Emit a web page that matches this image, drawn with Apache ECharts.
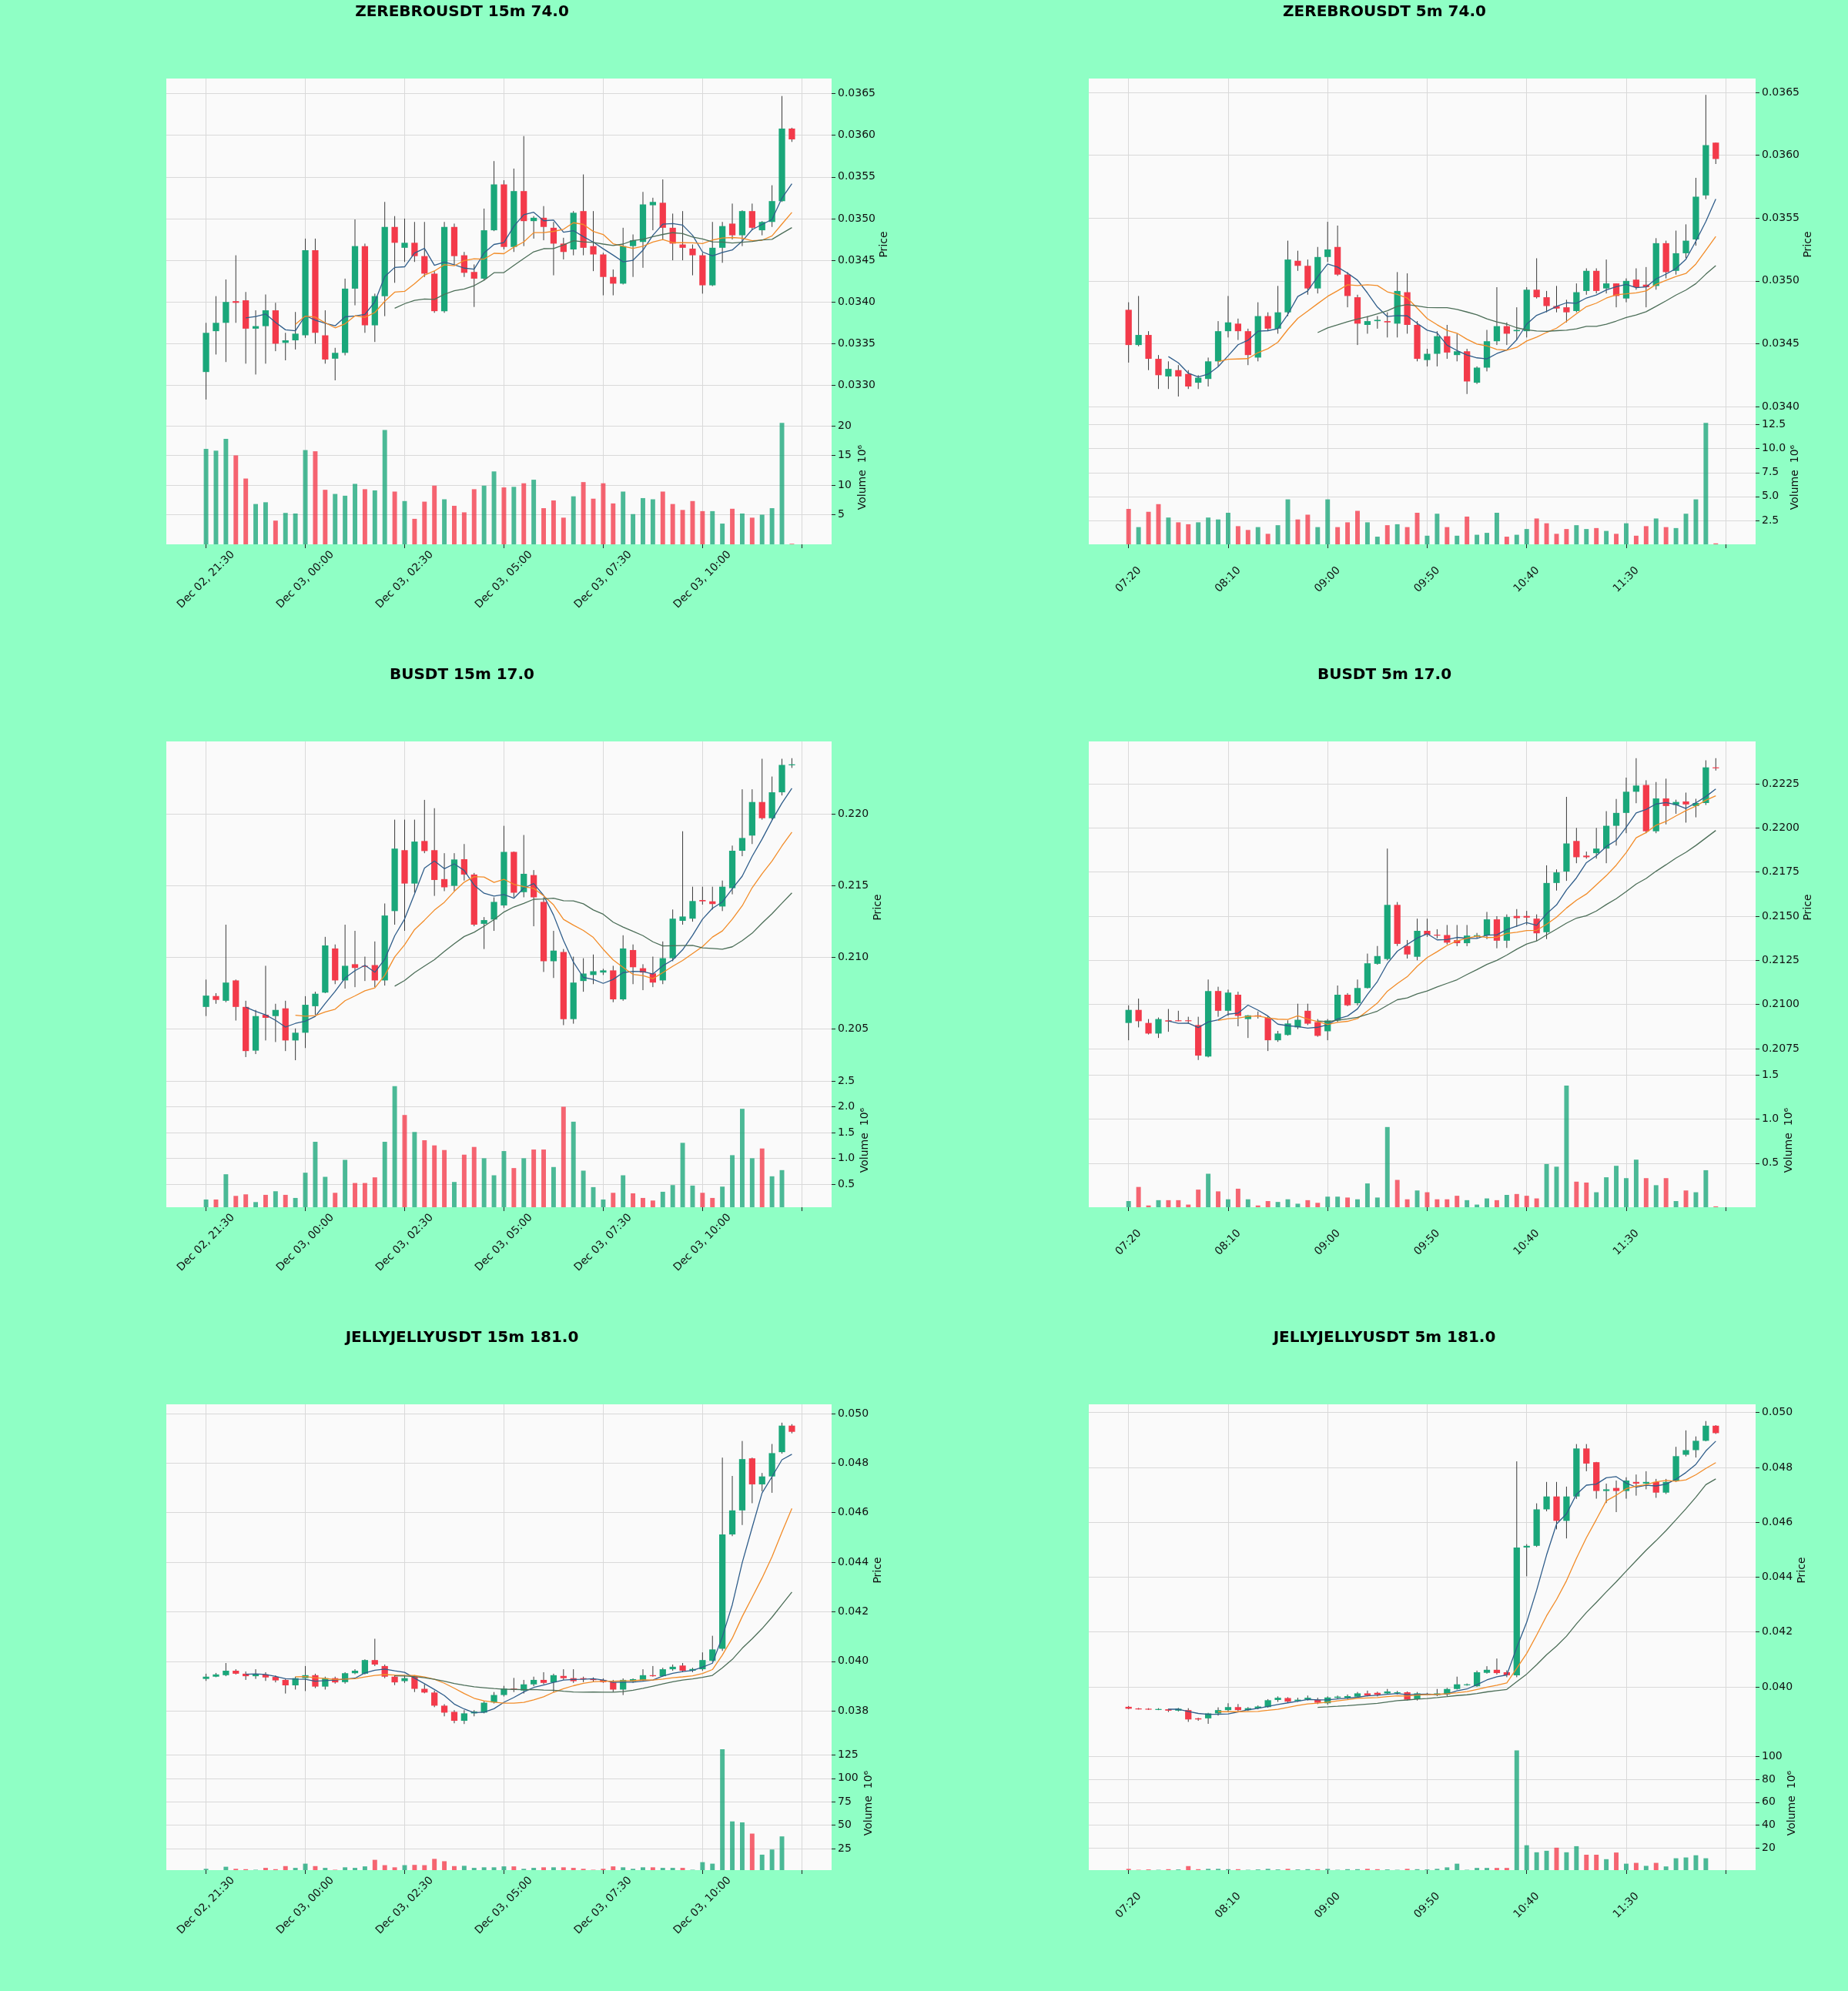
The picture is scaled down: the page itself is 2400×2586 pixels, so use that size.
<!DOCTYPE html>
<html>
<head>
<meta charset="utf-8">
<script src="https://cdn.jsdelivr.net/npm/echarts@6.0.0/dist/echarts.min.js"></script>
<style>
  html, body { margin: 0; padding: 0; background: #8fffc5; }
  #chart { width: 2400px; height: 2586px; }
</style>
</head>
<body>
<div id="chart"></div>
<script>
// time axis tick labels (one every 10 candles)
const labels15m = ['Dec 02, 21:30', 'Dec 03, 00:00', 'Dec 03, 02:30', 'Dec 03, 05:00', 'Dec 03, 07:30', 'Dec 03, 10:00'];
const labels5m = ['07:20', '08:10', '09:00', '09:50', '10:40', '11:30'];

// candles: [open, high, low, close]
const zerebro15m = [
  [0.03316,0.03375,0.03283,0.03363],[0.03365,0.03407,0.03337,0.03375],[0.03375,0.03427,0.03328,0.03400],[0.03401,0.03456,0.03375,0.03399],
  [0.03402,0.03412,0.03326,0.03368],[0.03368,0.03390,0.03313,0.03371],[0.03371,0.03409,0.03326,0.03390],[0.03390,0.03399,0.03341,0.03350],
  [0.03351,0.03363,0.03330,0.03354],[0.03354,0.03388,0.03343,0.03362],[0.03360,0.03476,0.03357,0.03462],[0.03462,0.03476,0.03350,0.03363],
  [0.03360,0.03390,0.03326,0.03331],[0.03332,0.03345,0.03306,0.03339],[0.03339,0.03428,0.03336,0.03416],[0.03416,0.03499,0.03396,0.03467],
  [0.03467,0.03470,0.03363,0.03372],[0.03372,0.03410,0.03352,0.03407],[0.03407,0.03520,0.03383,0.03490],[0.03490,0.03503,0.03423,0.03471],
  [0.03465,0.03500,0.03448,0.03471],[0.03471,0.03496,0.03448,0.03455],[0.03455,0.03496,0.03430,0.03434],[0.03434,0.03437,0.03387,0.03389],
  [0.03389,0.03496,0.03387,0.03490],[0.03490,0.03494,0.03445,0.03455],[0.03456,0.03460,0.03430,0.03435],[0.03436,0.03445,0.03394,0.03428],
  [0.03428,0.03512,0.03426,0.03486],[0.03486,0.03569,0.03485,0.03541],[0.03541,0.03546,0.03463,0.03466],[0.03466,0.03560,0.03460,0.03533],
  [0.03533,0.03599,0.03467,0.03497],[0.03497,0.03503,0.03476,0.03501],[0.03501,0.03515,0.03474,0.03490],[0.03489,0.03496,0.03432,0.03470],
  [0.03470,0.03477,0.03451,0.03460],[0.03463,0.03509,0.03456,0.03507],[0.03509,0.03553,0.03456,0.03465],[0.03467,0.03509,0.03437,0.03457],
  [0.03457,0.03459,0.03408,0.03430],[0.03430,0.03439,0.03408,0.03422],[0.03422,0.03489,0.03421,0.03467],[0.03467,0.03481,0.03430,0.03474],
  [0.03472,0.03532,0.03441,0.03517],[0.03516,0.03525,0.03486,0.03520],[0.03519,0.03547,0.03474,0.03489],[0.03489,0.03506,0.03450,0.03470],
  [0.03469,0.03509,0.03450,0.03465],[0.03464,0.03469,0.03432,0.03456],[0.03456,0.03459,0.03410,0.03420],[0.03420,0.03496,0.03419,0.03465],
  [0.03465,0.03496,0.03447,0.03491],[0.03494,0.03518,0.03475,0.03480],[0.03480,0.03510,0.03467,0.03509],[0.03509,0.03518,0.03486,0.03489],
  [0.03486,0.03497,0.03480,0.03496],[0.03496,0.03540,0.03490,0.03521],[0.03521,0.03647,0.03520,0.03608],[0.03608,0.03609,0.03592,0.03595]
];
const zerebro15mVol = [16.1,15.8,17.8,15.0,11.1,6.8,7.1,4.0,5.3,5.2,15.9,15.7,9.2,8.5,8.2,10.2,9.3,9.1,19.3,8.9,
  7.3,4.3,7.2,9.9,7.6,6.5,5.4,9.3,9.9,12.3,9.6,9.7,10.3,10.9,6.1,7.4,4.5,8.1,10.5,7.7,
  10.3,6.9,8.9,5.1,7.8,7.6,8.9,6.8,5.8,7.3,5.6,5.6,3.5,6.0,5.2,4.5,5.0,6.1,20.5,0.1];

const zerebro5m = [
  [0.03477,0.03483,0.03435,0.03449],[0.03449,0.03488,0.03448,0.03457],[0.03457,0.03460,0.03429,0.03438],[0.03438,0.03441,0.03414,0.03425],
  [0.03424,0.03436,0.03414,0.03430],[0.03429,0.03433,0.03408,0.03424],[0.03426,0.03429,0.03414,0.03416],[0.03419,0.03425,0.03414,0.03423],
  [0.03422,0.03439,0.03416,0.03436],[0.03436,0.03468,0.03432,0.03460],[0.03460,0.03488,0.03455,0.03467],[0.03466,0.03470,0.03453,0.03460],
  [0.03460,0.03462,0.03433,0.03441],[0.03439,0.03483,0.03436,0.03472],[0.03472,0.03475,0.03460,0.03462],[0.03462,0.03496,0.03458,0.03475],
  [0.03475,0.03532,0.03472,0.03517],[0.03516,0.03524,0.03508,0.03512],[0.03512,0.03517,0.03489,0.03494],[0.03494,0.03527,0.03490,0.03519],
  [0.03519,0.03547,0.03515,0.03525],[0.03527,0.03544,0.03504,0.03505],[0.03505,0.03507,0.03479,0.03488],[0.03487,0.03489,0.03449,0.03466],
  [0.03465,0.03472,0.03458,0.03468],[0.03468,0.03472,0.03462,0.03469],[0.03468,0.03475,0.03455,0.03467],[0.03466,0.03507,0.03455,0.03492],
  [0.03491,0.03506,0.03458,0.03465],[0.03465,0.03468,0.03436,0.03438],[0.03437,0.03446,0.03432,0.03442],[0.03442,0.03460,0.03432,0.03456],
  [0.03456,0.03465,0.03438,0.03443],[0.03441,0.03458,0.03436,0.03444],[0.03444,0.03446,0.03410,0.03420],[0.03419,0.03432,0.03418,0.03431],
  [0.03431,0.03461,0.03428,0.03452],[0.03452,0.03495,0.03449,0.03464],[0.03464,0.03467,0.03449,0.03458],[0.03460,0.03479,0.03453,0.03461],
  [0.03460,0.03495,0.03455,0.03493],[0.03493,0.03518,0.03486,0.03487],[0.03487,0.03492,0.03475,0.03480],[0.03480,0.03496,0.03475,0.03478],
  [0.03479,0.03485,0.03467,0.03475],[0.03476,0.03498,0.03475,0.03491],[0.03492,0.03510,0.03489,0.03508],[0.03508,0.03510,0.03490,0.03492],
  [0.03494,0.03517,0.03490,0.03498],[0.03498,0.03498,0.03479,0.03488],[0.03486,0.03502,0.03483,0.03500],[0.03501,0.03510,0.03493,0.03495],
  [0.03497,0.03511,0.03479,0.03495],[0.03496,0.03534,0.03493,0.03530],[0.03530,0.03532,0.03502,0.03507],[0.03508,0.03540,0.03505,0.03522],
  [0.03522,0.03545,0.03518,0.03532],[0.03533,0.03582,0.03528,0.03567],[0.03568,0.03648,0.03565,0.03608],[0.03610,0.03610,0.03593,0.03597]
];
const zerebro5mVol = [3.7,1.8,3.4,4.2,2.8,2.3,2.1,2.3,2.8,2.6,3.3,1.9,1.5,1.8,1.1,2.0,4.7,2.6,3.1,1.8,
  4.7,1.8,2.3,3.5,2.3,0.8,2.0,2.1,1.8,3.3,0.9,3.2,1.8,0.9,2.9,1.0,1.2,3.3,0.8,1.0,
  1.6,2.7,2.2,1.1,1.6,2.0,1.6,1.7,1.4,1.1,2.2,0.9,1.9,2.7,1.8,1.7,3.2,4.7,12.7,0.1];

const busdt15m = [
  [0.20655,0.20846,0.20591,0.20734],[0.20731,0.20751,0.20677,0.20704],[0.20698,0.21229,0.20688,0.20825],[0.20840,0.20846,0.20560,0.20655],
  [0.20655,0.20698,0.20305,0.20347],[0.20350,0.20634,0.20326,0.20591],[0.20600,0.20942,0.20421,0.20579],[0.20591,0.20677,0.20410,0.20634],
  [0.20645,0.20698,0.20347,0.20421],[0.20421,0.20505,0.20283,0.20475],[0.20475,0.20730,0.20368,0.20670],[0.20660,0.20761,0.20600,0.20747],
  [0.20755,0.21144,0.20751,0.21084],[0.21063,0.21091,0.20814,0.20840],[0.20840,0.21229,0.20783,0.20942],[0.20953,0.21186,0.20793,0.20927],
  [0.20942,0.21006,0.20836,0.20935],[0.20947,0.21112,0.20793,0.20840],[0.20840,0.21377,0.20804,0.21293],[0.21324,0.21962,0.21229,0.21760],
  [0.21749,0.21962,0.21186,0.21516],[0.21516,0.21962,0.21452,0.21809],[0.21813,0.22100,0.21728,0.21743],[0.21749,0.22042,0.21430,0.21541],
  [0.21547,0.21728,0.21463,0.21490],[0.21500,0.21728,0.21463,0.21684],[0.21686,0.21792,0.21537,0.21579],[0.21579,0.21590,0.21218,0.21229],
  [0.21235,0.21282,0.21059,0.21261],[0.21265,0.21420,0.21186,0.21388],[0.21363,0.21919,0.21346,0.21737],[0.21737,0.21740,0.21420,0.21452],
  [0.21456,0.21855,0.21420,0.21584],[0.21575,0.21610,0.21218,0.21420],[0.21388,0.21420,0.20899,0.20974],[0.20974,0.21186,0.20857,0.21048],
  [0.21038,0.21059,0.20528,0.20570],[0.20570,0.21006,0.20538,0.20825],[0.20836,0.20995,0.20761,0.20888],[0.20878,0.21021,0.20814,0.20904],
  [0.20895,0.20921,0.20878,0.20910],[0.20910,0.20942,0.20688,0.20708],[0.20708,0.21155,0.20698,0.21063],[0.21052,0.21091,0.20814,0.20932],
  [0.20925,0.20953,0.20772,0.20895],[0.20889,0.21006,0.20793,0.20825],[0.20840,0.21112,0.20814,0.20995],[0.20995,0.21335,0.20974,0.21271],
  [0.21256,0.21881,0.21229,0.21286],[0.21271,0.21494,0.21250,0.21394],[0.21401,0.21494,0.21369,0.21392],[0.21392,0.21494,0.21335,0.21373],
  [0.21356,0.21537,0.21324,0.21494],[0.21484,0.21781,0.21441,0.21745],[0.21745,0.22174,0.21707,0.21834],[0.21851,0.22174,0.21792,0.22085],
  [0.22085,0.22387,0.21962,0.21972],[0.21972,0.22263,0.21962,0.22153],[0.22153,0.22387,0.22131,0.22344],[0.22344,0.22391,0.22323,0.22348]
];
const busdt15mVol = [0.20,0.20,0.69,0.27,0.30,0.15,0.29,0.36,0.29,0.23,0.72,1.32,0.64,0.33,0.97,0.52,0.52,0.63,1.32,2.40,
  1.84,1.51,1.35,1.25,1.16,0.54,1.07,1.22,1.00,0.67,1.14,0.81,1.00,1.17,1.17,0.83,2.00,1.71,0.76,0.44,
  0.20,0.33,0.67,0.32,0.23,0.18,0.35,0.48,1.30,0.47,0.33,0.23,0.45,1.06,1.96,1.00,1.19,0.65,0.77,0.01];

const busdt5m = [
  [0.20895,0.20995,0.20797,0.20969],[0.20969,0.21033,0.20870,0.20905],[0.20895,0.20917,0.20830,0.20835],[0.20835,0.20926,0.20810,0.20917],
  [0.20910,0.20974,0.20845,0.20903],[0.20910,0.20964,0.20905,0.20907],[0.20910,0.20930,0.20890,0.20907],[0.20883,0.20930,0.20685,0.20710],
  [0.20705,0.21141,0.20700,0.21076],[0.21076,0.21100,0.20930,0.20964],[0.20964,0.21084,0.20935,0.21067],[0.21055,0.21072,0.20876,0.20935],
  [0.20917,0.20940,0.20810,0.20938],[0.20938,0.20960,0.20920,0.20935],[0.20924,0.20933,0.20736,0.20797],[0.20797,0.20850,0.20788,0.20835],
  [0.20827,0.20910,0.20823,0.20892],[0.20870,0.21004,0.20860,0.20913],[0.20964,0.21004,0.20883,0.20891],[0.20900,0.20917,0.20817,0.20822],
  [0.20848,0.20917,0.20797,0.20909],[0.20909,0.21107,0.20900,0.21055],[0.21055,0.21064,0.20990,0.20995],[0.21007,0.21141,0.20995,0.21093],
  [0.21093,0.21288,0.21090,0.21233],[0.21230,0.21331,0.21225,0.21274],[0.21257,0.21883,0.21250,0.21564],[0.21564,0.21580,0.21331,0.21343],
  [0.21331,0.21365,0.21260,0.21283],[0.21270,0.21486,0.21250,0.21417],[0.21417,0.21486,0.21383,0.21395],[0.21395,0.21426,0.21374,0.21390],
  [0.21393,0.21450,0.21340,0.21350],[0.21364,0.21450,0.21330,0.21347],[0.21347,0.21450,0.21330,0.21390],[0.21389,0.21405,0.21376,0.21392],
  [0.21391,0.21524,0.21370,0.21482],[0.21482,0.21500,0.21318,0.21361],[0.21361,0.21510,0.21320,0.21495],[0.21501,0.21540,0.21440,0.21489],
  [0.21501,0.21530,0.21450,0.21492],[0.21486,0.21510,0.21360,0.21403],[0.21409,0.21788,0.21370,0.21688],[0.21688,0.21765,0.21645,0.21748],
  [0.21753,0.22176,0.21700,0.21912],[0.21926,0.22000,0.21800,0.21834],[0.21843,0.21866,0.21826,0.21834],[0.21857,0.22000,0.21826,0.21883],
  [0.21883,0.22095,0.21800,0.22012],[0.22012,0.22164,0.21900,0.22085],[0.22085,0.22285,0.21970,0.22205],[0.22205,0.22395,0.22140,0.22240],
  [0.22243,0.22270,0.21970,0.21981],[0.21981,0.22260,0.21970,0.22167],[0.22167,0.22279,0.22020,0.22124],[0.22130,0.22160,0.22080,0.22147],
  [0.22150,0.22200,0.22030,0.22133],[0.22124,0.22165,0.22060,0.22141],[0.22141,0.22383,0.22130,0.22343],[0.22343,0.22395,0.22325,0.22341]
];
const busdt5mVol = [0.07,0.23,0.02,0.08,0.08,0.08,0.03,0.20,0.38,0.18,0.09,0.21,0.09,0.02,0.07,0.06,0.09,0.04,0.08,0.05,
  0.12,0.12,0.11,0.09,0.27,0.11,0.91,0.31,0.09,0.19,0.17,0.09,0.09,0.13,0.08,0.03,0.10,0.08,0.14,0.15,
  0.13,0.10,0.49,0.46,1.38,0.29,0.28,0.17,0.34,0.47,0.33,0.54,0.33,0.25,0.33,0.07,0.19,0.17,0.42,0.01];

const jelly15m = [
  [0.03929,0.03950,0.03921,0.03938],[0.03938,0.03953,0.03936,0.03947],[0.03944,0.03993,0.03940,0.03962],[0.03962,0.03968,0.03947,0.03950],
  [0.03950,0.03959,0.03925,0.03940],[0.03940,0.03968,0.03929,0.03948],[0.03947,0.03956,0.03921,0.03935],[0.03937,0.03943,0.03915,0.03923],
  [0.03925,0.03931,0.03870,0.03903],[0.03903,0.03938,0.03886,0.03932],[0.03932,0.03981,0.03880,0.03944],[0.03944,0.03950,0.03892,0.03898],
  [0.03898,0.03938,0.03886,0.03932],[0.03932,0.03938,0.03910,0.03915],[0.03916,0.03956,0.03910,0.03952],[0.03952,0.03968,0.03948,0.03962],
  [0.03950,0.04008,0.03947,0.04005],[0.04005,0.04091,0.03981,0.03987],[0.03981,0.03987,0.03932,0.03938],[0.03938,0.03944,0.03904,0.03915],
  [0.03920,0.03944,0.03913,0.03932],[0.03938,0.03944,0.03876,0.03889],[0.03889,0.03907,0.03871,0.03874],[0.03874,0.03882,0.03815,0.03821],
  [0.03821,0.03827,0.03778,0.03793],[0.03796,0.03803,0.03750,0.03760],[0.03760,0.03803,0.03747,0.03790],[0.03790,0.03803,0.03778,0.03797],
  [0.03793,0.03840,0.03790,0.03833],[0.03834,0.03876,0.03830,0.03864],[0.03864,0.03901,0.03858,0.03890],[0.03890,0.03933,0.03876,0.03887],
  [0.03882,0.03925,0.03870,0.03907],[0.03907,0.03938,0.03900,0.03925],[0.03925,0.03956,0.03907,0.03913],[0.03915,0.03950,0.03876,0.03944],
  [0.03941,0.03968,0.03925,0.03932],[0.03932,0.03968,0.03913,0.03920],[0.03932,0.03938,0.03916,0.03928],[0.03928,0.03935,0.03916,0.03925],
  [0.03925,0.03931,0.03913,0.03916],[0.03916,0.03925,0.03876,0.03886],[0.03886,0.03931,0.03864,0.03925],[0.03920,0.03931,0.03913,0.03928],
  [0.03925,0.03968,0.03919,0.03944],[0.03944,0.03981,0.03938,0.03940],[0.03940,0.03974,0.03938,0.03968],[0.03968,0.03987,0.03962,0.03978],
  [0.03983,0.03993,0.03956,0.03962],[0.03962,0.03974,0.03956,0.03969],[0.03968,0.04036,0.03962,0.04005],[0.04002,0.04103,0.03999,0.04048],
  [0.04051,0.04822,0.04042,0.04512],[0.04512,0.04748,0.04505,0.04609],[0.04609,0.04889,0.04550,0.04816],[0.04819,0.04822,0.04638,0.04714],
  [0.04714,0.04760,0.04686,0.04746],[0.04746,0.04877,0.04680,0.04840],[0.04844,0.04963,0.04838,0.04951],[0.04951,0.04957,0.04920,0.04926]
];
const jelly15mVol = [3.4,1.8,5.6,3.4,3.0,2.4,4.4,3.0,6.3,4.4,8.9,6.3,4.4,2.4,5.0,4.4,6.0,13.0,7.3,5.0,
  7.3,7.6,7.3,14.0,11.5,6.3,6.6,4.4,5.0,5.0,6.0,6.0,3.4,4.4,5.0,5.0,5.0,4.4,3.4,2.4,
  3.4,6.0,5.0,3.4,5.0,5.0,4.4,4.4,4.4,2.4,10.5,8.9,131,54,53,41,18.5,24,38,0.5];

const jelly5m = [
  [0.03927,0.03930,0.03918,0.03920],[0.03921,0.03923,0.03917,0.03920],[0.03920,0.03922,0.03916,0.03919],[0.03918,0.03922,0.03915,0.03919],
  [0.03918,0.03920,0.03908,0.03913],[0.03913,0.03923,0.03910,0.03920],[0.03915,0.03922,0.03872,0.03881],[0.03885,0.03887,0.03876,0.03881],
  [0.03885,0.03905,0.03865,0.03903],[0.03903,0.03925,0.03895,0.03915],[0.03915,0.03940,0.03910,0.03926],[0.03926,0.03937,0.03910,0.03915],
  [0.03915,0.03926,0.03912,0.03922],[0.03921,0.03932,0.03918,0.03928],[0.03926,0.03955,0.03924,0.03951],[0.03952,0.03965,0.03945,0.03960],
  [0.03959,0.03962,0.03943,0.03946],[0.03948,0.03960,0.03945,0.03953],[0.03953,0.03968,0.03950,0.03960],[0.03953,0.03960,0.03937,0.03942],
  [0.03940,0.03965,0.03935,0.03961],[0.03960,0.03968,0.03955,0.03964],[0.03959,0.03972,0.03955,0.03966],[0.03964,0.03981,0.03962,0.03976],
  [0.03976,0.03986,0.03965,0.03968],[0.03978,0.03982,0.03965,0.03971],[0.03976,0.03992,0.03972,0.03983],[0.03978,0.03985,0.03972,0.03980],
  [0.03980,0.03983,0.03950,0.03953],[0.03955,0.03981,0.03950,0.03976],[0.03973,0.03978,0.03970,0.03974],[0.03970,0.03992,0.03966,0.03976],
  [0.03972,0.03996,0.03966,0.03992],[0.03992,0.04037,0.03990,0.04009],[0.04008,0.04012,0.04004,0.04009],[0.04002,0.04059,0.04000,0.04053],
  [0.04051,0.04075,0.04048,0.04062],[0.04062,0.04103,0.04045,0.04050],[0.04053,0.04060,0.04035,0.04042],[0.04042,0.04822,0.04035,0.04508],
  [0.04508,0.04520,0.04403,0.04514],[0.04514,0.04669,0.04510,0.04647],[0.04647,0.04747,0.04640,0.04694],[0.04694,0.04747,0.04574,0.04605],
  [0.04605,0.04730,0.04541,0.04694],[0.04694,0.04885,0.04685,0.04869],[0.04869,0.04885,0.04786,0.04814],[0.04819,0.04820,0.04686,0.04714],
  [0.04714,0.04741,0.04670,0.04720],[0.04725,0.04752,0.04637,0.04714],[0.04714,0.04764,0.04686,0.04752],[0.04747,0.04774,0.04697,0.04741],
  [0.04741,0.04786,0.04720,0.04747],[0.04747,0.04758,0.04689,0.04708],[0.04708,0.04758,0.04703,0.04747],[0.04752,0.04875,0.04747,0.04841],
  [0.04846,0.04935,0.04840,0.04863],[0.04863,0.04913,0.04836,0.04897],[0.04897,0.04969,0.04895,0.04952],[0.04952,0.04954,0.04922,0.04925]
];
const jelly5mVol = [2.1,1.3,1.6,1.3,1.8,1.6,4.5,1.8,2.1,2.1,1.8,1.8,1.3,1.6,2.1,1.6,2.1,1.6,1.8,1.8,
  2.1,1.3,1.8,1.8,2.1,1.8,1.6,1.3,2.1,1.8,1.6,2.1,3.4,6.6,1.3,2.9,2.9,2.9,2.9,105,
  22.6,16.5,17.8,20.5,16.5,21.8,14.4,14.4,10.5,16.3,6.6,7.3,4.7,7.3,4.2,11.3,12.0,13.9,11.3,0.3];

// y axis tick values
const zerebro15mPriceTicks = [0.0330,0.0335,0.0340,0.0345,0.0350,0.0355,0.0360,0.0365];
const zerebro5mPriceTicks = [0.0340,0.0345,0.0350,0.0355,0.0360,0.0365];
const busdt15mPriceTicks = [0.205,0.210,0.215,0.220];
const busdt5mPriceTicks = [0.2075,0.2100,0.2125,0.2150,0.2175,0.2200,0.2225];
const jelly15mPriceTicks = [0.038,0.040,0.042,0.044,0.046,0.048,0.050];
const jelly5mPriceTicks = [0.040,0.042,0.044,0.046,0.048,0.050];
const zerebro15mVolTicks = [5,10,15,20];
const zerebro5mVolTicks = [2.5,5.0,7.5,10.0,12.5];
const busdt15mVolTicks = [0.5,1.0,1.5,2.0,2.5];
const busdt5mVolTicks = [0.5,1.0,1.5];
const jelly15mVolTicks = [25,50,75,100,125];
const jelly5mVolTicks = [20,40,60,80,100];

const UP = '#1aa77a', DOWN = '#f33a4a';
const UP_VOL = 'rgba(26,167,122,0.78)', DOWN_VOL = 'rgba(243,58,74,0.78)';
const MA_COLORS = ['#2f5d8a', '#f28c28', '#4c6e58'];
const MA_PERIODS = [5, 10, 20];
const PAD = 4;        // empty slots left of the first candle
const SLOTS = 68;     // slots from -4 to 63
const BG = '#8fffc5';

const colLeft = [216, 1414], colWidth = [864, 866], titleX = [600, 1798];
const rowTop = [102, 963, 1824], titleY = [16, 877, 1738];
const PRICE_H = 431, VOL_H = 174;

const panels = [
  { title: 'ZEREBROUSDT 15m 74.0', ohlc: zerebro15m, vol: zerebro15mVol, labels: labels15m, col: 0, row: 0,
    pMin: 0.03270, pMax: 0.03668, pTicks: zerebro15mPriceTicks, pDig: 4, vMin: 0, vMax: 22.6, vTicks: zerebro15mVolTicks, vDig: 0, pGap: 61, vGap: 33 },
  { title: 'ZEREBROUSDT 5m 74.0', ohlc: zerebro5m, vol: zerebro5mVol, labels: labels5m, col: 1, row: 0,
    pMin: 0.03397, pMax: 0.03661, pTicks: zerebro5mPriceTicks, pDig: 4, vMin: 0, vMax: 14.0, vTicks: zerebro5mVolTicks, vDig: 1, pGap: 61, vGap: 44 },
  { title: 'BUSDT 15m 17.0', ohlc: busdt15m, vol: busdt15mVol, labels: labels15m, col: 0, row: 1,
    pMin: 0.20192, pMax: 0.22508, pTicks: busdt15mPriceTicks, pDig: 3, vMin: 0.05, vMax: 2.65, vTicks: busdt15mVolTicks, vDig: 1, pGap: 53, vGap: 36 },
  { title: 'BUSDT 5m 17.0', ohlc: busdt5m, vol: busdt5mVol, labels: labels5m, col: 1, row: 1,
    pMin: 0.2061, pMax: 0.2249, pTicks: busdt5mPriceTicks, pDig: 4, vMin: 0, vMax: 1.52, vTicks: busdt5mVolTicks, vDig: 1, pGap: 61, vGap: 36 },
  { title: 'JELLYJELLYUSDT 15m 181.0', ohlc: jelly15m, vol: jelly15mVol, labels: labels15m, col: 0, row: 2,
    pMin: 0.03698, pMax: 0.05037, pTicks: jelly15mPriceTicks, pDig: 3, vMin: 2, vMax: 145, vTicks: jelly15mVolTicks, vDig: 0, pGap: 53, vGap: 41 },
  { title: 'JELLYJELLYUSDT 5m 181.0', ohlc: jelly5m, vol: jelly5mVol, labels: labels5m, col: 1, row: 2,
    pMin: 0.0382, pMax: 0.0503, pTicks: jelly5mPriceTicks, pDig: 3, vMin: 1.0, vMax: 117.4, vTicks: jelly5mVolTicks, vDig: 0, pGap: 53, vGap: 40 }
];

function isTick(k) {
  const i = k - PAD;
  return i >= 0 && i <= 60 && i % 10 === 0;
}

function categories(labels) {
  const out = [];
  for (let k = 0; k < SLOTS; k++) {
    const i = k - PAD;
    out.push(i >= 0 && i % 10 === 0 && labels[i / 10] ? labels[i / 10] : '');
  }
  return out;
}

function movingAverage(ohlc, n) {
  const out = new Array(SLOTS).fill('-');
  for (let i = n - 1; i < ohlc.length; i++) {
    let s = 0;
    for (let j = i - n + 1; j <= i; j++) s += ohlc[j][3];
    out[i + PAD] = s / n;
  }
  return out;
}

function renderCandle(params, api) {
  const k = api.value(0);
  const o = api.value(1), h = api.value(2), l = api.value(3), c = api.value(4);
  const hi = api.coord([k, h]), lo = api.coord([k, l]);
  const po = api.coord([k, o]), pc = api.coord([k, c]);
  const w = (api.coord([k + 1, o])[0] - po[0]) * 0.64;
  const y = Math.min(po[1], pc[1]);
  const hgt = Math.max(Math.abs(po[1] - pc[1]), 1.2);
  return {
    type: 'group',
    children: [
      { type: 'line', shape: { x1: hi[0], y1: hi[1], x2: lo[0], y2: lo[1] }, style: { stroke: '#3a3a3a', lineWidth: 1 } },
      { type: 'rect', shape: { x: po[0] - w / 2, y: y, width: w, height: hgt }, style: { fill: c >= o ? UP : DOWN } }
    ]
  };
}

function renderVolume(params, api) {
  const k = api.value(0), v = api.value(1);
  const top = api.coord([k, v]);
  const cs = params.coordSys;
  const bottom = cs.y + cs.height;
  const w = (api.coord([k + 1, v])[0] - top[0]) * 0.46;
  const y = Math.min(top[1], bottom);
  return {
    type: 'rect',
    shape: { x: top[0] - w / 2, y: y, width: w, height: bottom - y },
    style: { fill: api.value(2) ? UP_VOL : DOWN_VOL }
  };
}

const option = {
  animation: false,
  backgroundColor: BG,
  textStyle: { fontFamily: 'DejaVu Sans' },
  grid: [], xAxis: [], yAxis: [], series: [], graphic: []
};

const gridLine = { show: true, lineStyle: { color: '#d9d9d9', width: 1 } };
const tickLine = { color: '#222', width: 1 };

panels.forEach(function (p, j) {
  const left = colLeft[p.col], width = colWidth[p.col], top = rowTop[p.row];
  const cats = categories(p.labels);
  const gp = 2 * j, gv = 2 * j + 1;

  option.grid.push({ left: left, top: top, width: width, height: PRICE_H, show: true,
    backgroundColor: '#fafafa', borderWidth: 0 });
  option.grid.push({ left: left, top: top + PRICE_H, width: width, height: VOL_H, show: true,
    backgroundColor: '#fafafa', borderWidth: 0 });

  option.xAxis.push({ type: 'category', gridIndex: gp, data: cats, boundaryGap: false,
    axisLine: { show: false }, axisTick: { show: false }, axisLabel: { show: false },
    splitLine: { show: true, interval: function (k) { return isTick(k); }, lineStyle: { color: '#d9d9d9', width: 1 } } });
  option.xAxis.push({ type: 'category', gridIndex: gv, data: cats, boundaryGap: false,
    axisLine: { show: false },
    axisTick: { show: true, length: 5, interval: function (k) { return isTick(k); }, lineStyle: tickLine },
    axisLabel: { show: true, interval: function (k) { return isTick(k); }, rotate: 45, align: 'center', verticalAlign: 'middle',
      margin: 46, fontSize: 14, color: '#111', fontFamily: 'DejaVu Sans' },
    splitLine: { show: true, interval: function (k) { return isTick(k); }, lineStyle: { color: '#d9d9d9', width: 1 } } });

  option.yAxis.push({ type: 'value', gridIndex: gp, position: 'right', min: p.pMin, max: p.pMax, scale: true,
    axisLine: { show: false },
    axisTick: { show: true, length: 5, lineStyle: tickLine, customValues: p.pTicks },
    axisLabel: { show: true, customValues: p.pTicks, margin: 8, fontSize: 14, color: '#111', fontFamily: 'DejaVu Sans',
      formatter: function (v) { return v.toFixed(p.pDig); } },
    splitLine: gridLine,
    name: 'Price', nameLocation: 'middle', nameRotate: 90, nameGap: p.pGap,
    nameTextStyle: { fontSize: 14, color: '#111', fontFamily: 'DejaVu Sans' } });
  option.yAxis.push({ type: 'value', gridIndex: gv, position: 'right', min: p.vMin, max: p.vMax, scale: true,
    axisLine: { show: false },
    axisTick: { show: true, length: 5, lineStyle: tickLine, customValues: p.vTicks },
    axisLabel: { show: true, customValues: p.vTicks, margin: 8, fontSize: 14, color: '#111', fontFamily: 'DejaVu Sans',
      formatter: function (v) { return v.toFixed(p.vDig); } },
    splitLine: gridLine,
    name: 'Volume  10\u2076', nameLocation: 'middle', nameRotate: 90, nameGap: p.vGap,
    nameTextStyle: { fontSize: 14, color: '#111', fontFamily: 'DejaVu Sans' } });

  option.series.push({ type: 'custom', xAxisIndex: gp, yAxisIndex: gp, renderItem: renderCandle, z: 3,
    encode: { x: 0, y: [1, 2, 3, 4] },
    data: p.ohlc.map(function (d, i) { return [i + PAD, d[0], d[1], d[2], d[3]]; }) });

  MA_PERIODS.forEach(function (n, m) {
    option.series.push({ type: 'line', xAxisIndex: gp, yAxisIndex: gp, data: movingAverage(p.ohlc, n),
      symbol: 'none', z: 4, lineStyle: { color: MA_COLORS[m], width: 1.3 } });
  });

  option.series.push({ type: 'custom', xAxisIndex: gv, yAxisIndex: gv, renderItem: renderVolume, z: 3,
    encode: { x: 0, y: 1 },
    data: p.vol.map(function (v, i) { return [i + PAD, v, p.ohlc[i][3] >= p.ohlc[i][0] ? 1 : 0]; }) });

  option.graphic.push({ type: 'text', x: titleX[p.col], y: titleY[p.row],
    style: { text: p.title, align: 'center', verticalAlign: 'middle', fill: '#000',
      font: 'bold 20px "DejaVu Sans"' } });
});

const chart = echarts.init(document.getElementById('chart'));
chart.setOption(option);
</script>
</body>
</html>
